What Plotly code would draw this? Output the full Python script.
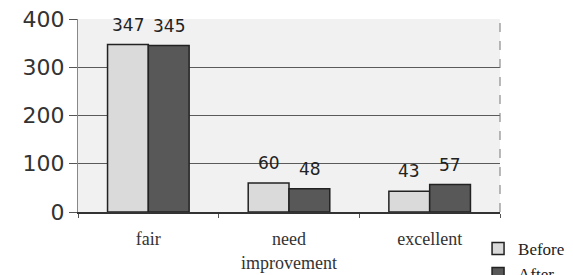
import plotly.graph_objects as go

categories = ["fair", "need<br>improvement", "excellent"]
before = [347, 60, 43]
after = [345, 48, 57]
y_ticks = [0, 100, 200, 300, 400]

fig = go.Figure()
fig.add_trace(go.Bar(x=categories, y=before, name="Before",
                     marker=dict(color="#dadada", line=dict(color="#222", width=1.5))))
fig.add_trace(go.Bar(x=categories, y=after, name="After",
                     marker=dict(color="#585858", line=dict(color="#222", width=1.5))))

for series, shift in ((before, -20.5), (after, 20.5)):
    for c, v in zip(categories, series):
        fig.add_annotation(x=c, y=v, text=str(v), showarrow=False,
                           xshift=shift, yshift=8, yanchor="bottom",
                           font=dict(family="DejaVu Sans", size=17, color="#222"))

fig.update_layout(
    width=565, height=267,
    margin=dict(l=70, r=73, t=11, b=63, autoexpand=False),
    paper_bgcolor="white", plot_bgcolor="#f1f1f1",
    barmode="group", bargap=0.42, bargroupgap=0,
    showlegend=True,
    legend=dict(x=0.948, y=-0.098, xanchor="left", yanchor="top",
                font=dict(family="Liberation Serif", size=17, color="#222"),
                bgcolor="rgba(0,0,0,0)", tracegroupgap=0, itemwidth=30),
    xaxis=dict(showline=True, linecolor="#333", linewidth=1.5, automargin=False,
               ticks="outside", tickcolor="#555", ticklen=4, tickson="boundaries",
               ticklabelstandoff=10,
               tickfont=dict(family="Liberation Serif", size=18, color="#333"),
               showgrid=False),
    yaxis=dict(range=[0, 400], tickvals=y_ticks, showline=True, linecolor="#888",
               linewidth=1, ticks="outside", tickcolor="#555", ticklen=8,
               automargin=False, ticklabeloverflow="allow",
               tickfont=dict(family="DejaVu Sans", size=22, color="#333"),
               gridcolor="#5a5a5a", gridwidth=1, zeroline=False),
)
fig.add_shape(type="line", xref="paper", yref="paper", x0=1, x1=1, y0=0, y1=1,
              line=dict(color="#777", width=1, dash="dash"))
fig.write_html("out.html")
